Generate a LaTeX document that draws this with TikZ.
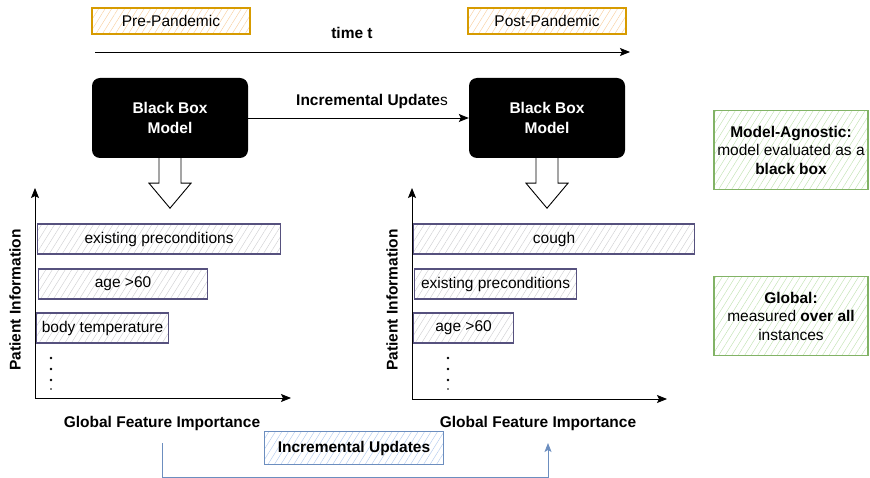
\documentclass[tikz,border=0pt]{standalone}
\usepackage{fontspec}
\setmainfont{Liberation Sans}
\usetikzlibrary{arrows.meta,patterns.meta,calc}
\definecolor{periodline}{HTML}{D79B00}
\definecolor{periodhatch}{HTML}{F8CFA0}
\definecolor{noteline}{HTML}{82B366}
\definecolor{notehatch}{HTML}{C2E2B2}
\definecolor{barline}{HTML}{56517E}
\definecolor{barhatch}{HTML}{CFCFD2}
\definecolor{updline}{HTML}{6C8EBF}
\definecolor{updhatch}{HTML}{B3CBEE}

\begin{document}
\begin{tikzpicture}[x=1pt,y=-1pt,
    every node/.style={font=\fontsize{15.5}{18}\selectfont, inner sep=0pt},
    hatched/.style={pattern={Lines[angle=58,distance=5.5pt,line width=0.45pt]}},
    period/.style={hatched, draw=periodline, pattern color=periodhatch, line width=1.1pt,
        minimum width=158, minimum height=26},
    blackbox/.style={fill=black, rounded corners=8pt, text=white, align=center,
        minimum width=156, minimum height=80, font=\bfseries\fontsize{15.5}{20}\selectfont},
    bar/.style={hatched, draw=barline, pattern color=barhatch, line width=1.1pt,
        minimum height=30, anchor=west},
    note/.style={hatched, draw=noteline, pattern color=notehatch, line width=1.1pt,
        minimum width=154, minimum height=79, align=center,
        font=\fontsize{15.5}{18.5}\selectfont},
    axislabel/.style={font=\bfseries\fontsize{15.5}{18}\selectfont},
    arrow/.style={line width=0.9pt, -{Stealth[length=10pt,width=8pt,inset=2pt]}},
    hollow/.style={line width=0.9pt, fill=white, line join=miter}
  ]
  \useasboundingbox (0,0) rectangle (870,478);

  % time line
  \node[period] (pre) at (171,21) {Pre-Pandemic};
  \node[period] (post) at (547,21) {Post-Pandemic};
  \node[axislabel] (time) at (352,33) {time t};
  \coordinate (t0) at (95,52);
  \coordinate (t1) at (630,52);
  \draw[arrow] (t0) -- (t1);

  % models
  \node[blackbox] (bb1) at (170,118) {Black Box\\Model};
  \node[blackbox] (bb2) at (547,118) {Black Box\\Model};
  \draw[arrow] (bb1) -- (bb2);
  \node (inc) at (372,101) {\textbf{Incremental Update}s};

  % hollow arrows into the charts
  \foreach \b in {bb1,bb2} {
    \draw[hollow] ($(\b.south)+(-11,0)$) -- ($(\b.south)+(-11,25)$) -- ($(\b.south)+(-21,25)$)
      -- ($(\b.south)+(0,50)$) -- ($(\b.south)+(21,25)$) -- ($(\b.south)+(11,25)$)
      -- ($(\b.south)+(11,0)$);
  }

  % chart pre-pandemic
  \coordinate (o1) at (35,398);
  \coordinate (y1) at (35,188);
  \coordinate (x1) at (291,398);
  \draw[arrow] (o1) -- (y1);
  \draw[arrow] (o1) -- (x1);
  \node[bar, minimum width=243] (p1) at (37,239) {existing preconditions};
  \node[bar, minimum width=169] (p2) at (38,284) {age >60};
  \node[bar, minimum width=132] (p3) at (36,328) {body temperature};
  \foreach \y in {358,369,380} \fill (51,\y) circle (1.3);
  \fill (51,389) circle (0.9);
  \node[axislabel, rotate=90] (ylab1) at (15,300) {Patient Information};
  \node[axislabel] (xlab1) at (162,423) {Global Feature Importance};

  % chart post-pandemic
  \coordinate (o2) at (412,399);
  \coordinate (y2) at (412,188);
  \coordinate (x2) at (667,399);
  \draw[arrow] (o2) -- (y2);
  \draw[arrow] (o2) -- (x2);
  \node[bar, minimum width=281] (q1) at (413,239) {cough};
  \node[bar, minimum width=162] (q2) at (414,284) {existing preconditions};
  \node[bar, minimum width=100] (q3) at (413,328) {age >60};
  \foreach \y in {358,369,380} \fill (448,\y) circle (1.3);
  \fill (448,389) circle (0.9);
  \node[axislabel, rotate=90] (ylab2) at (392,300) {Patient Information};
  \node[axislabel] (xlab2) at (538,423) {Global Feature Importance};

  % notes
  \node[note] (agnostic) at (791,150) {\textbf{Model-Agnostic:}\\model evaluated as a\\\textbf{black box}};
  \node[note] (global) at (791,316) {\textbf{Global:}\\measured \textbf{over all}\\instances};

  % incremental updates below
  \node[hatched, draw=updline, pattern color=updhatch, line width=1.1pt,
    minimum width=179, minimum height=33, axislabel] (upd) at (354,448) {Incremental Updates};
  \coordinate (u1) at (162,443);
  \coordinate (u2) at (548,443);
  \draw[updline, line width=0.9pt, -{Stealth[length=9pt,width=7pt,inset=2pt]}]
    (u1) -- ++(0,34) -| (u2);
\end{tikzpicture}
\end{document}
